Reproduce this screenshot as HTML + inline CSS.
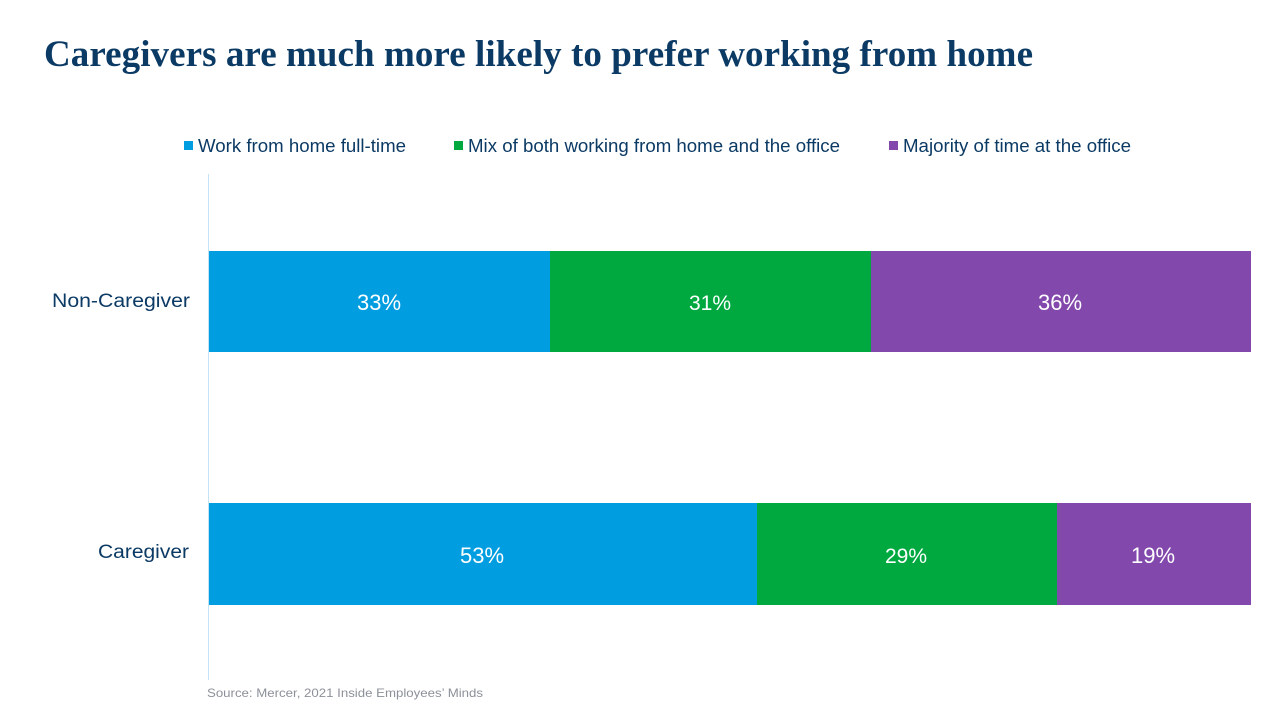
<!DOCTYPE html>
<html>
<head>
<meta charset="utf-8">
<style>
  html,body{margin:0;padding:0;background:#fff;}
  svg{display:block;}
</style>
</head>
<body>
<svg width="1280" height="720" viewBox="0 0 1280 720" xmlns="http://www.w3.org/2000/svg">
  <rect width="1280" height="720" fill="#fff"/>
  <!-- Title -->
  <text x="44" y="66" font-family="Liberation Serif, serif" font-weight="bold" font-size="37" fill="#0B3A64" textLength="989" lengthAdjust="spacing">Caregivers are much more likely to prefer working from home</text>

  <!-- Legend -->
  <rect x="184" y="141" width="9" height="9" fill="#009DE0"/>
  <text x="198" y="152" font-family="Liberation Sans, sans-serif" font-size="18" fill="#0B3A64" textLength="208" lengthAdjust="spacingAndGlyphs">Work from home full-time</text>
  <rect x="454" y="141" width="9" height="9" fill="#00A940"/>
  <text x="468" y="152" font-family="Liberation Sans, sans-serif" font-size="18" fill="#0B3A64" textLength="372" lengthAdjust="spacingAndGlyphs">Mix of both working from home and the office</text>
  <rect x="889" y="141" width="9" height="9" fill="#8248AC"/>
  <text x="903" y="152" font-family="Liberation Sans, sans-serif" font-size="18" fill="#0B3A64" textLength="228" lengthAdjust="spacingAndGlyphs">Majority of time at the office</text>

  <!-- Axis line -->
  <line x1="208.5" y1="174" x2="208.5" y2="680" stroke="#C4E4F6" stroke-width="1"/>

  <!-- Non-Caregiver bar -->
  <rect x="209" y="251" width="341" height="101" fill="#009DE0"/>
  <rect x="550" y="251" width="321" height="101" fill="#00A940"/>
  <rect x="871" y="251" width="380" height="101" fill="#8248AC"/>
  <text x="379" y="310" font-family="Liberation Sans, sans-serif" font-size="22" fill="#fff" text-anchor="middle">33%</text>
  <text x="710" y="310" font-family="Liberation Sans, sans-serif" font-size="21" fill="#fff" text-anchor="middle">31%</text>
  <text x="1060" y="310" font-family="Liberation Sans, sans-serif" font-size="22" fill="#fff" text-anchor="middle">36%</text>

  <!-- Caregiver bar -->
  <rect x="209" y="503" width="548" height="102" fill="#009DE0"/>
  <rect x="757" y="503" width="300" height="102" fill="#00A940"/>
  <rect x="1057" y="503" width="194" height="102" fill="#8248AC"/>
  <text x="482" y="563" font-family="Liberation Sans, sans-serif" font-size="22" fill="#fff" text-anchor="middle">53%</text>
  <text x="906" y="563" font-family="Liberation Sans, sans-serif" font-size="21" fill="#fff" text-anchor="middle">29%</text>
  <text x="1153" y="563" font-family="Liberation Sans, sans-serif" font-size="22" fill="#fff" text-anchor="middle">19%</text>

  <!-- Category labels -->
  <text x="52" y="307" font-family="Liberation Sans, sans-serif" font-size="19" fill="#0B3A64" textLength="138" lengthAdjust="spacingAndGlyphs">Non-Caregiver</text>
  <text x="98" y="558" font-family="Liberation Sans, sans-serif" font-size="19" fill="#0B3A64" textLength="91" lengthAdjust="spacingAndGlyphs">Caregiver</text>

  <!-- Source -->
  <text x="207" y="697" font-family="Liberation Sans, sans-serif" font-size="12" fill="#8C9099" textLength="276" lengthAdjust="spacingAndGlyphs">Source: Mercer, 2021 Inside Employees’ Minds</text>
</svg>
</body>
</html>
